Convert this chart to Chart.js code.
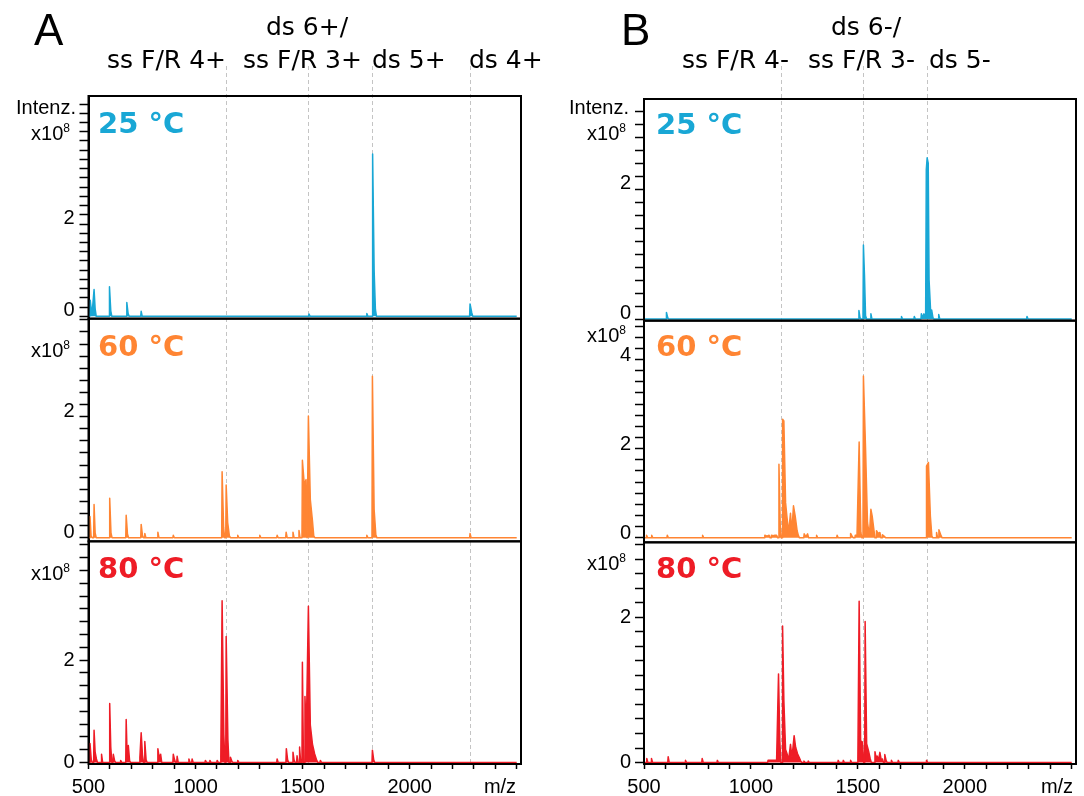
<!DOCTYPE html>
<html><head><meta charset="utf-8">
<script src="https://cdn.jsdelivr.net/npm/chart.js@4.4.0/dist/chart.umd.min.js"></script>
<style>
html,body{margin:0;padding:0;background:#fff;width:1084px;height:796px;overflow:hidden;}
#wrap{position:relative;width:1084px;height:796px;}
canvas{position:absolute;top:0;}
.t{position:absolute;white-space:nowrap;line-height:1;color:#000;}
.hd{font-family:'DejaVu Sans',sans-serif;font-size:25px;}
.big{font-family:'Liberation Sans',Arial,sans-serif;font-size:44px;}
.ax{font-family:'Liberation Sans',Arial,sans-serif;font-size:20px;}
.sup{font-size:12px;vertical-align:8px;}
.tmp{font-family:'DejaVu Sans',sans-serif;font-weight:bold;font-size:29px;}
</style></head>
<body><div id="wrap">
<canvas id="cA" width="542" height="796" style="left:0px"></canvas>
<canvas id="cB" width="542" height="796" style="left:542px"></canvas>
</div>
<script>
// ---------------- data ----------------
const X_RANGE = [500, 2520];          // m/z axis limits
const X_DATA = [500, 2500];           // m/z range covered by the spectra
const xTickLabels = [500, 1000, 1500, 2000];
const xMinorStep = 100;

const markersA = [1142, 1525, 1826, 2280];
const markersB = [1140, 1524, 1824];

// [m/z, intensity x1e8]
const peaksA25 = [[508,0.35],[516,0.02],[526,0.58],[531,0.17],
  [598,0.64],[604,0.12],[679,0.30],[685,0.06],[746,0.11],
  [1530,0.05],[1800,0.06],[1827,3.52],[1834,1.0],[1840,0.15],
  [2282,0.27],[2290,0.08]];
const peaksA60 = [[507,0.35],[512,0.03],[526,0.55],[531,0.08],
  [599,0.65],[605,0.08],[676,0.37],[682,0.06],
  [746,0.22],[752,0.04],[763,0.07],[824,0.09],[896,0.04],
  [1124,1.09],[1131,0.17],[1143,0.87],[1150,0.25],[1158,0.03],
  [1197,0.04],[1300,0.04],[1381,0.04],[1423,0.09],[1455,0.09],[1483,0.12],
  [1499,1.28],[1508,0.87],[1516,0.96],[1527,2.01],[1536,0.63],[1546,0.28],[1552,0.03],
  [1800,0.04],[1826,2.67],[1834,0.47],[1842,0.05],[2282,0.07]];
const peaksA80 = [[507,0.37],[513,0.05],[526,0.63],[531,0.2],[537,0.07],
  [561,0.16],[599,1.15],[604,0.3],[616,0.16],[622,0.03],[650,0.04],
  [676,0.84],[680,0.2],[686,0.33],[692,0.03],
  [740,0.1],[746,0.58],[752,0.15],[763,0.41],[769,0.05],
  [824,0.27],[830,0.1],[837,0.16],[896,0.16],[902,0.05],[914,0.12],
  [969,0.07],[984,0.07],[1046,0.04],[1067,0.04],[1101,0.04],
  [1118,0.1],[1124,3.16],[1132,0.55],[1143,2.46],[1151,0.45],[1163,0.1],[1170,0.02],
  [1197,0.04],[1381,0.07],[1424,0.27],[1430,0.05],
  [1455,0.2],[1460,0.05],[1474,0.13],[1486,0.3],[1499,1.96],[1511,1.29],[1517,0.55],
  [1527,3.05],[1536,0.73],[1546,0.36],[1556,0.17],[1566,0.04],[1583,0.04],
  [1826,0.24],[1832,0.05]];
const peaksB25 = [[605,0.10],[611,0.02],
  [1505,0.13],[1510,0.02],[1526,1.14],[1531,0.67],[1536,0.05],[1561,0.08],
  [1704,0.04],[1764,0.04],[1797,0.08],[1803,0.02],[1809,0.08],[1815,0.03],
  [1817,0.1],[1820,2.3],[1824,2.48],[1829,2.4],[1833,0.6],[1840,0.14],[1845,0.14],[1851,0.02],
  [1878,0.07],[2291,0.04]];
const peaksB60 = [[512,0.06],[536,0.06],[609,0.06],[774,0.06],
  [1065,0.06],[1075,0.04],[1085,0.06],[1096,0.06],[1104,0.05],[1112,0.06],[1120,0.06],
  [1131,1.65],[1137,0.27],[1148,2.66],[1154,2.62],[1162,0.79],[1168,0.49],[1176,0.12],
  [1185,0.55],[1191,0.12],[1199,0.72],[1207,0.49],[1216,0.16],[1222,0.05],
  [1249,0.09],[1257,0.03],[1265,0.09],[1307,0.06],[1403,0.06],
  [1466,0.1],[1474,0.03],[1488,0.06],[1496,0.06],
  [1506,2.15],[1514,0.12],[1526,3.63],[1536,1.99],[1545,0.34],[1554,0.05],[1561,0.64],
  [1567,0.49],[1575,0.18],[1587,0.16],[1595,0.1],[1603,0.12],[1615,0.07],[1625,0.03],
  [1821,1.61],[1830,1.69],[1839,0.49],[1846,0.04],[1868,0.12],[1879,0.18],[1889,0.05]];
const peaksB80 = [[513,0.055],[535,0.055],[613,0.08],[694,0.03],[772,0.055],[843,0.03],
  [1080,0.03],[1090,0.03],[1097,0.03],[1105,0.03],[1112,0.03],[1120,0.03],
  [1129,1.22],[1135,0.3],[1148,1.88],[1154,0.85],[1162,0.18],[1170,0.11],[1176,0.03],
  [1185,0.25],[1192,0.07],[1202,0.37],[1209,0.21],[1218,0.12],[1226,0.07],[1233,0.02],
  [1248,0.02],[1268,0.02],[1408,0.03],[1432,0.03],[1466,0.03],
  [1500,0.03],[1506,2.22],[1513,0.3],[1522,0.28],[1534,1.94],[1541,0.26],[1550,0.16],[1558,0.05],
  [1580,0.15],[1586,0.05],[1590,0.09],[1597,0.04],[1603,0.14],[1609,0.04],[1615,0.05],
  [1626,0.11],[1632,0.03],[1657,0.03],[1689,0.03],[1821,0.03]];

// y axis limits (x1e8) and labelled ticks
const yRangeA25 = [-0.05, 4.775], yLabelsA25 = [0, 2];
const yRangeA60 = [-0.06, 3.62],  yLabelsA60 = [0, 2];
const yRangeA80 = [-0.03, 4.32],  yLabelsA80 = [0, 2];
const yRangeB25 = [-0.025, 3.385], yLabelsB25 = [0, 2];
const yRangeB60 = [-0.10, 4.87],  yLabelsB60 = [0, 2, 4];
const yRangeB80 = [-0.02, 3.03],  yLabelsB80 = [0, 2];

// ---------------- styles ----------------
const COL = {c25: '#19A7D5', c60: '#FF8533', c80: '#EE1C26'};
const FONT = "'Liberation Sans', Arial, sans-serif";
Chart.defaults.font.family = FONT;

function buildSpectrum(peaks) {
  const LEAD = 2, TAIL = 5, GAP = 10;
  const pts = [{x: X_DATA[0], y: 0}];
  let prev = null;
  for (const [mz, h] of peaks) {
    if (!prev || mz - prev[0] > GAP) {
      if (prev) pts.push({x: prev[0] + TAIL, y: 0});
      pts.push({x: mz - LEAD, y: 0});
    }
    pts.push({x: mz, y: h});
    prev = [mz, h];
  }
  if (prev) pts.push({x: prev[0] + TAIL, y: 0});
  pts.push({x: X_DATA[1], y: 0});
  return pts;
}

const framePlugin = {
  id: 'frames',
  beforeDatasetsDraw(chart) {
    const ctx = chart.ctx, ca = chart.chartArea, xs = chart.scales.x;
    ctx.save();
    ctx.strokeStyle = '#c4c4c4';
    ctx.lineWidth = 1;
    ctx.setLineDash([4, 3]);
    for (const mz of chart.options.plugins.frames.markers) {
      const x = Math.round(xs.getPixelForValue(mz)) + 0.5;
      ctx.beginPath();
      ctx.moveTo(x, chart.options.plugins.frames.markerTop);
      ctx.lineTo(x, ca.bottom);
      ctx.stroke();
    }
    ctx.restore();
  },
  afterDraw(chart) {
    const ctx = chart.ctx, ca = chart.chartArea;
    ctx.save();
    ctx.strokeStyle = '#000';
    ctx.lineWidth = 2;
    Object.values(chart.scales).forEach(s => {
      if (s.axis !== 'y') return;
      ctx.strokeRect(ca.left, s.top, ca.right - ca.left, s.bottom - s.top);
    });
    ctx.restore();
  }
};

function makeColumn(id, panels, markers, g) {
  const scales = {
    x: {
      type: 'linear', position: 'bottom', min: X_RANGE[0], max: X_RANGE[1],
      afterBuildTicks: s => {
        const t = [];
        for (let v = X_DATA[0]; v <= X_DATA[1]; v += xMinorStep) t.push({value: v});
        s.ticks = t;
      },
      afterFit: s => { s.height = g.xAxisH; },
      ticks: {autoSkip: false, maxRotation: 0, minRotation: 0, color: '#000',
        font: {family: FONT, size: 20}, padding: 6,
        callback: v => xTickLabels.includes(v) ? String(v) : ''},
      grid: {display: true, drawOnChartArea: false, drawTicks: true, tickLength: 5,
        tickColor: '#000', tickWidth: 1.5},
      border: {display: true, color: '#000', width: 2}
    }
  };
  const datasets = [];
  panels.forEach((p, i) => {
    const yid = 'y' + i;
    scales[yid] = {
      type: 'linear', position: 'left', stack: 'col', stackWeight: 1,
      weight: panels.length - i,
      min: p.range[0], max: p.range[1],
      afterBuildTicks: s => {
        const t = [];
        const st = p.minor;
        for (let k = Math.ceil(p.range[0] / st - 1e-9); k * st <= p.range[1] + 1e-9; k++) {
          t.push({value: +(k * st).toFixed(4)});
        }
        s.ticks = t;
      },
      afterFit: s => { s.width = g.yAxisW; },
      ticks: {autoSkip: false, color: '#000', font: {family: FONT, size: 20},
        padding: g.tickPad, labelOffset: p.labelOffset,
        callback: v => p.labels.some(l => Math.abs(l - v) < 1e-6) ? String(Math.round(v)) : ''},
      grid: {display: true, drawOnChartArea: false, drawTicks: true, tickLength: 9,
        tickColor: '#000', tickWidth: 1.5},
      border: {display: true, color: '#000', width: 2}
    };
    datasets.push({
      data: buildSpectrum(p.peaks), yAxisID: yid, xAxisID: 'x',
      borderColor: p.color, backgroundColor: p.color, fill: 'origin',
      borderWidth: 1.5, pointRadius: 0, tension: 0, borderJoinStyle: 'round'
    });
  });
  return new Chart(document.getElementById(id), {
    type: 'line',
    data: {datasets},
    options: {
      responsive: false, animation: false, events: [], parsing: true,
      layout: {padding: {left: 0, right: g.padRight, top: g.padTop, bottom: 0}},
      scales,
      plugins: {legend: {display: false}, tooltip: {enabled: false},
        frames: {markers, markerTop: 66}}
    },
    plugins: [framePlugin]
  });
}

makeColumn('cA', [
  {peaks: peaksA25, color: COL.c25, range: yRangeA25, labels: yLabelsA25, minor: 0.2, labelOffset: -5.5},
  {peaks: peaksA60, color: COL.c60, range: yRangeA60, labels: yLabelsA60, minor: 0.2, labelOffset: -5},
  {peaks: peaksA80, color: COL.c80, range: yRangeA80, labels: yLabelsA80, minor: 0.25, labelOffset: 0}
], markersA, {yAxisW: 88.5, xAxisH: 32, padRight: 21, padTop: 96, tickPad: 5});

makeColumn('cB', [
  {peaks: peaksB25, color: COL.c25, range: yRangeB25, labels: yLabelsB25, minor: 0.2, labelOffset: -6},
  {peaks: peaksB60, color: COL.c60, range: yRangeB60, labels: yLabelsB60, minor: 0.25, labelOffset: -4},
  {peaks: peaksB80, color: COL.c80, range: yRangeB80, labels: yLabelsB80, minor: 0.2, labelOffset: 0}
], markersB, {yAxisW: 102, xAxisH: 32, padRight: 8, padTop: 99, tickPad: 4});

// ---------------- text annotations ----------------
const wrap = document.getElementById('wrap');
function place(content, x, baseline, cls, align, color) {
  const d = document.createElement('div');
  d.className = 't ' + cls;
  d.innerHTML = content;
  if (color) d.style.color = color;
  const m = document.createElement('span');
  m.style.display = 'inline-block'; m.style.width = '0'; m.style.height = '0';
  d.appendChild(m);
  d.style.left = '0px'; d.style.top = '0px';
  wrap.appendChild(d);
  const r = d.getBoundingClientRect(), mr = m.getBoundingClientRect();
  const base = mr.bottom - r.top;
  let left = x;
  if (align === 'center') left = x - r.width / 2;
  else if (align === 'right') left = x - r.width;
  d.style.left = left + 'px';
  d.style.top = (baseline - base) + 'px';
}
const X10 = 'x10<span class="sup">8</span>';
// panel letters
place('A', 34, 45, 'big', 'left');
place('B', 621, 45, 'big', 'left');
// species labels
place('ds 6+/', 307, 35, 'hd', 'center');
place('ss F/R 4+', 226, 68, 'hd', 'right');
place('ss F/R 3+', 243, 68, 'hd', 'left');
place('ds 5+', 372, 68, 'hd', 'left');
place('ds 4+', 469, 68, 'hd', 'left');
place('ds 6-/', 866, 35, 'hd', 'center');
place('ss F/R 4-', 789, 68, 'hd', 'right');
place('ss F/R 3-', 808, 68, 'hd', 'left');
place('ds 5-', 929, 68, 'hd', 'left');
// axis titles
place('Intenz.', 76, 114, 'ax', 'right');
place(X10, 70, 140, 'ax', 'right');
place(X10, 70, 357, 'ax', 'right');
place(X10, 70, 580, 'ax', 'right');
place('Intenz.', 629, 114, 'ax', 'right');
place(X10, 626, 140, 'ax', 'right');
place(X10, 626, 342, 'ax', 'right');
place(X10, 626, 570, 'ax', 'right');
place('m/z', 500, 793, 'ax', 'center');
place('m/z', 1057, 793, 'ax', 'center');
// temperatures
place('25 °C', 98, 133, 'tmp', 'left', COL.c25);
place('60 °C', 98, 356, 'tmp', 'left', COL.c60);
place('80 °C', 98, 578, 'tmp', 'left', COL.c80);
place('25 °C', 656, 134, 'tmp', 'left', COL.c25);
place('60 °C', 656, 356, 'tmp', 'left', COL.c60);
place('80 °C', 656, 578, 'tmp', 'left', COL.c80);
</script>
</body></html>
